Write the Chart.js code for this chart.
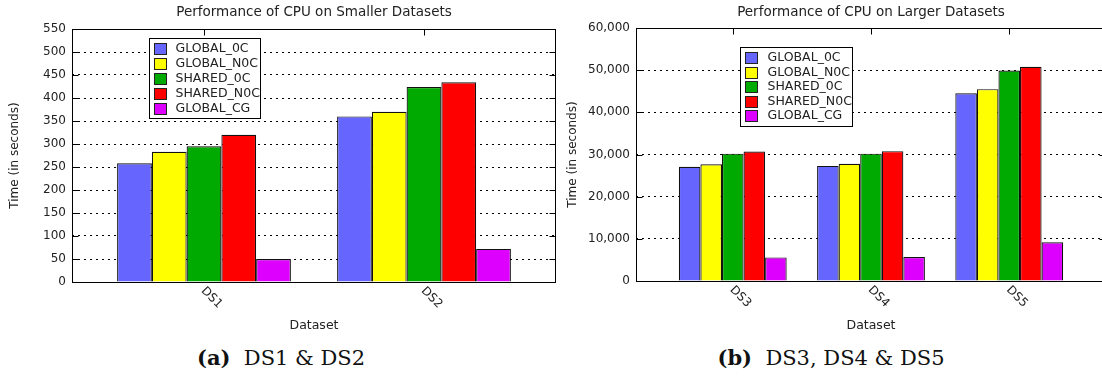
<!DOCTYPE html>
<html>
<head>
<meta charset="utf-8">
<script src="https://cdn.jsdelivr.net/npm/chart.js@4.4.0/dist/chart.umd.min.js"></script>
<style>
  html, body { margin: 0; padding: 0; background: #fff; overflow: hidden; width: 1102px; height: 381px; }
  canvas { position: absolute; top: 0; }
  #smallChart { left: 0; }
  #largeChart { left: 560px; }
  .caption { position: absolute; top: 345px; font-family: "DejaVu Serif", serif; font-size: 21px; color: #111;
             white-space: nowrap; transform: translateX(-50%); }
</style>
</head>
<body>
<canvas id="smallChart" width="560" height="340"></canvas>
<canvas id="largeChart" width="560" height="340"></canvas>
<div class="caption" style="left:281px"><b>(a)</b>&nbsp; DS1 &amp; DS2</div>
<div class="caption" style="left:831px"><b>(b)</b>&nbsp; DS3, DS4 &amp; DS5</div>
<script>
// series shared by both plots
const seriesNames = ["GLOBAL_0C", "GLOBAL_N0C", "SHARED_0C", "SHARED_N0C", "GLOBAL_CG"];
const seriesColors = ["#6666ff", "#ffff00", "#00aa00", "#ff0000", "#dd00ff"];

// smaller datasets (seconds)
const smallCats = ["DS1", "DS2"];
const smallGlobal0C  = [258, 360];
const smallGlobalN0C = [283, 370];
const smallShared0C  = [295, 424];
const smallSharedN0C = [320, 434];
const smallGlobalCG  = [50, 72];
const smallTicks = { max: 550, step: 50 };

// larger datasets (seconds)
const largeCats = ["DS3", "DS4", "DS5"];
const largeGlobal0C  = [27100, 27300, 44500];
const largeGlobalN0C = [27700, 27800, 45500];
const largeShared0C  = [30200, 30200, 49900];
const largeSharedN0C = [30700, 30800, 50800];
const largeGlobalCG  = [5600, 5700, 9200];
const largeTicks = { max: 60000, step: 10000 };

const textColor = "#222";

// frame, inward ticks, title, rotated category labels and the boxed legend (gnuplot look)
const gnuplotLook = {
  id: "gnuplotLook",
  afterDatasetsDraw(chart, args, o) {
    const { ctx, chartArea: a, scales: { x, y } } = chart;
    ctx.save();
    ctx.strokeStyle = "#000";
    ctx.lineWidth = 1;
    const L = Math.round(a.left) + 0.5, R = Math.round(a.right) - 0.5;
    const T = Math.round(a.top) + 0.5, B = Math.round(a.bottom) + 0.5;
    ctx.strokeRect(L, T, R - L, B - T);
    ctx.beginPath();
    y.ticks.forEach(t => {
      const py = Math.round(y.getPixelForValue(t.value)) + 0.5;
      ctx.moveTo(L, py); ctx.lineTo(L + 6, py);
      ctx.moveTo(R, py); ctx.lineTo(R - 6, py);
    });
    o.cats.forEach((c, i) => {
      const px = Math.round(x.getPixelForValue(i)) + 0.5;
      ctx.moveTo(px, T); ctx.lineTo(px, T + 6);
    });
    ctx.stroke();

    // title centred over the plot area
    ctx.fillStyle = textColor;
    ctx.font = "13.5px 'DejaVu Sans'";
    ctx.textAlign = "center";
    ctx.textBaseline = "middle";
    ctx.fillText(o.title, (a.left + a.right) / 2, 12);

    // category labels, turned 45 degrees clockwise
    ctx.font = "12px 'DejaVu Sans'";
    ctx.textAlign = "left";
    o.cats.forEach((c, i) => {
      ctx.save();
      ctx.translate(x.getPixelForValue(i) - 1, a.bottom + 7);
      ctx.rotate(Math.PI / 4);
      ctx.fillText(c, 0, 0);
      ctx.restore();
    });

    // legend
    const lx = Math.round(a.left + o.legendX) + 0.5, ly = Math.round(a.top + o.legendY) + 0.5;
    ctx.fillStyle = "#fff";
    ctx.fillRect(lx, ly, o.legendW, o.legendH);
    ctx.strokeRect(lx, ly, o.legendW, o.legendH);
    ctx.font = "12.5px 'DejaVu Sans'";
    chart.data.datasets.forEach((ds, i) => {
      const cy = ly + o.legendPad + i * o.rowH;
      ctx.fillStyle = ds.backgroundColor;
      ctx.fillRect(lx + 5, Math.round(cy - 5.5), 12, 11);
      ctx.strokeStyle = "#222";
      ctx.strokeRect(lx + 5, Math.round(cy - 5.5) + 0.5, 12, 11);
      ctx.fillStyle = textColor;
      ctx.fillText(ds.label, lx + o.textX, cy + 0.5);
    });
    ctx.restore();
  }
};

function makeChart(id, cats, values, ticks, look) {
  const datasets = seriesNames.map((name, s) => ({
    label: name,
    data: values[s].map((v, i) => ({ x: i, y: v })),
    backgroundColor: seriesColors[s],
    borderColor: "#111",
    borderWidth: 1.2,
    categoryPercentage: look.groupWidth,
    barPercentage: 1
  }));

  return new Chart(document.getElementById(id), {
    type: "bar",
    data: { datasets: datasets },
    plugins: [gnuplotLook],
    options: {
      responsive: false,
      animation: false,
      events: [],
      layout: { padding: { top: look.top, right: look.padRight } },
      plugins: {
        legend: { display: false },
        tooltip: { enabled: false },
        title: { display: false },
        gnuplotLook: look
      },
      scales: {
        x: {
          type: "linear",
          min: look.xMin,
          max: look.xMax,
          offset: false,
          grid: { display: false },
          border: { display: false },
          ticks: { display: false },
          // one tick per dataset, so the bar ruler spacing is one category
          afterBuildTicks: s => { s.ticks = cats.map((c, i) => ({ value: i })); },
          title: {
            display: true, text: "Dataset", color: textColor,
            font: { family: "DejaVu Sans", size: 12.5 },
            padding: { top: 0, bottom: 6.5 }
          },
          afterFit: s => { s.height = look.xHeight; }
        },
        y: {
          min: 0,
          max: ticks.max,
          grid: { color: "#000", lineWidth: 1, drawTicks: false },
          border: { display: false, dash: [2, 4] },
          ticks: {
            stepSize: ticks.step,
            padding: 6,
            color: textColor,
            font: { family: "DejaVu Sans", size: 12 },
            callback: v => v.toLocaleString("en-US")
          },
          title: {
            display: true, text: "Time (in seconds)", color: textColor,
            font: { family: "DejaVu Sans", size: 12 },
            padding: { top: look.yTitlePad, bottom: 0 }
          },
          afterFit: s => { s.width = look.yWidth; }
        }
      }
    }
  });
}

makeChart("smallChart", smallCats,
  [smallGlobal0C, smallGlobalN0C, smallShared0C, smallSharedN0C, smallGlobalCG], smallTicks, {
    title: "Performance of CPU on Smaller Datasets",
    cats: smallCats, xMin: -0.6, xMax: 1.6, groupWidth: 0.79,
    yWidth: 72, xHeight: 58, padRight: 4, top: 29, yTitlePad: 7.4,
    legendX: 77, legendY: 9, legendW: 111, legendH: 80, legendPad: 10, rowH: 15, textX: 26
  });

makeChart("largeChart", largeCats,
  [largeGlobal0C, largeGlobalN0C, largeShared0C, largeSharedN0C, largeGlobalCG], largeTicks, {
    title: "Performance of CPU on Larger Datasets",
    cats: largeCats, xMin: -0.7, xMax: 2.7, groupWidth: 0.78,
    yWidth: 76, xHeight: 59, padRight: 14, top: 28, yTitlePad: 5.4,
    legendX: 104, legendY: 19, legendW: 112, legendH: 79, legendPad: 10, rowH: 14.5, textX: 27
  });
</script>
</body>
</html>
